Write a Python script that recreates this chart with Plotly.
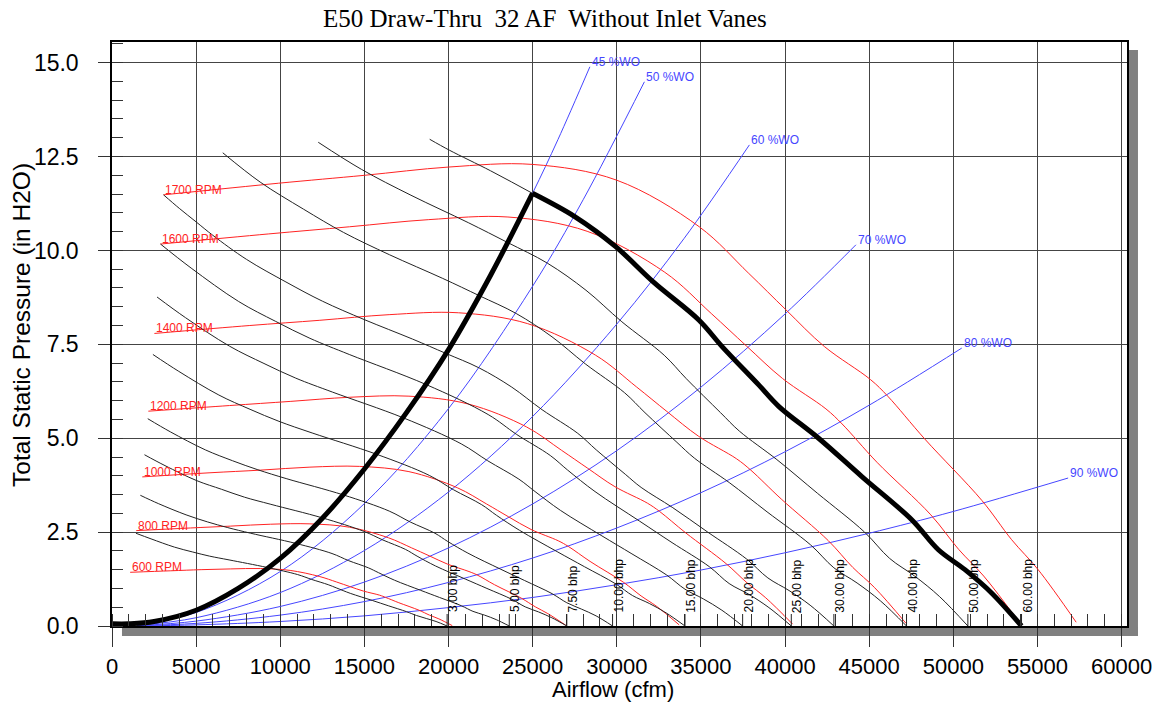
import plotly.graph_objects as go

# ---------------- data (cfm, in H2O) ----------------
# Fan speed curves
RPM_LABELS = ["600 RPM", "800 RPM", "1000 RPM", "1200 RPM", "1400 RPM", "1600 RPM", "1700 RPM"]
RPM600_X = [1080, 3494, 5294, 7059, 8824, 10588, 12317, 13355, 14134, 14942, 15909, 16269, 17045, 18245, 18866, 19424, 20221]
RPM600_Y = [1.43, 1.47, 1.50, 1.52, 1.53, 1.48, 1.32, 1.17, 1.05, 0.93, 0.82, 0.76, 0.62, 0.42, 0.29, 0.19, 0.01]
RPM800_X = [1440, 4659, 7059, 9412, 11765, 14118, 16424, 17807, 18848, 19925, 21215, 21695, 22730, 24330, 25158, 25902, 26965]
RPM800_Y = [2.54, 2.61, 2.66, 2.71, 2.72, 2.63, 2.35, 2.08, 1.87, 1.65, 1.45, 1.36, 1.10, 0.74, 0.51, 0.33, 0.02]
RPM1000_X = [1800, 5823, 8823, 11764, 14705, 17646, 20528, 22258, 23557, 24904, 26516, 27116, 28410, 30410, 31445, 32375, 33704]
RPM1000_Y = [3.97, 4.08, 4.15, 4.23, 4.25, 4.11, 3.68, 3.25, 2.91, 2.57, 2.27, 2.12, 1.72, 1.16, 0.80, 0.52, 0.03]
RPM1200_X = [2160, 6988, 10588, 14118, 17647, 21177, 24636, 26711, 28271, 29888, 31822, 32542, 34095, 36495, 37737, 38853, 40448]
RPM1200_Y = [5.72, 5.87, 5.98, 6.09, 6.12, 5.91, 5.30, 4.68, 4.20, 3.71, 3.27, 3.05, 2.48, 1.66, 1.15, 0.75, 0.05]
RPM1400_X = [2520, 8153, 12353, 16470, 20588, 24705, 28740, 31161, 32981, 34867, 37123, 37963, 39775, 42575, 44024, 45325, 47187]
RPM1400_Y = [7.79, 8.00, 8.14, 8.29, 8.34, 8.05, 7.21, 6.37, 5.71, 5.05, 4.45, 4.15, 3.38, 2.27, 1.56, 1.02, 0.07]
RPM1600_X = [2880, 9318, 14118, 18824, 23530, 28236, 32848, 35615, 37695, 39850, 42429, 43389, 45460, 48660, 50316, 51804, 53931]
RPM1600_Y = [10.17, 10.44, 10.63, 10.82, 10.89, 10.51, 9.42, 8.32, 7.46, 6.59, 5.78, 5.38, 4.36, 2.96, 2.04, 1.33, 0.09]
RPM1700_X = [3060, 9900, 15000, 20000, 25000, 30000, 34900, 37840, 40050, 42340, 45080, 46100, 48300, 51700, 53460, 55040, 57300]
RPM1700_Y = [11.48, 11.79, 12.00, 12.22, 12.29, 11.87, 10.63, 9.39, 8.42, 7.44, 6.56, 6.12, 4.98, 3.34, 2.30, 1.50, 0.10]

# Brake horsepower curves
BHP_LABELS = ["3.00 bhp", "5.00 bhp", "7.50 bhp", "10.00 bhp", "15.00 bhp", "20.00 bhp",
              "25.00 bhp", "30.00 bhp", "40.00 bhp", "50.00 bhp", "60.00 bhp"]
BHP3_X = [1422, 2321, 3714, 4799, 5803, 6956, 9207, 11029, 11864, 12849, 13359, 14160, 15471, 16419, 17511, 18094, 18676, 19259, 19915]
BHP3_Y = [2.47, 2.32, 2.10, 1.97, 1.86, 1.76, 1.56, 1.37, 1.24, 1.10, 1.01, 0.87, 0.68, 0.54, 0.38, 0.28, 0.20, 0.12, 0.0]
BHP5_X = [1686, 2752, 4402, 5689, 6879, 8246, 10915, 13074, 14064, 15232, 15837, 16786, 18340, 19464, 20758, 21450, 22140, 22831, 23608]
BHP5_Y = [3.48, 3.26, 2.96, 2.77, 2.62, 2.47, 2.20, 1.93, 1.74, 1.55, 1.42, 1.22, 0.95, 0.76, 0.54, 0.39, 0.29, 0.17, 0.0]
BHP7_5_X = [1930, 3150, 5040, 6513, 7875, 9441, 12495, 14968, 16101, 17438, 18131, 19218, 20997, 22283, 23765, 24556, 25347, 26137, 27028]
BHP7_5_Y = [4.56, 4.27, 3.87, 3.64, 3.43, 3.24, 2.88, 2.52, 2.29, 2.04, 1.86, 1.60, 1.25, 1.00, 0.71, 0.51, 0.375, 0.22, 0.0]
BHP10_X = [2125, 3467, 5547, 7168, 8668, 10391, 13753, 16474, 17721, 19193, 19955, 21151, 23110, 24525, 26156, 27027, 27898, 28768, 29748]
BHP10_Y = [5.52, 5.17, 4.69, 4.40, 4.16, 3.92, 3.49, 3.06, 2.77, 2.47, 2.25, 1.94, 1.51, 1.21, 0.86, 0.62, 0.45, 0.27, 0.0]
BHP15_X = [2432, 3969, 6350, 8205, 9921, 11894, 15742, 18857, 20285, 21969, 22842, 24211, 26453, 28073, 29940, 30937, 31933, 32929, 34051]
BHP15_Y = [7.23, 6.78, 6.15, 5.77, 5.45, 5.14, 4.57, 4.01, 3.63, 3.23, 2.95, 2.55, 1.98, 1.58, 1.12, 0.81, 0.60, 0.35, 0.0]
BHP20_X = [2677, 4368, 6989, 9031, 10920, 13091, 17327, 20755, 22327, 24180, 25141, 26648, 29115, 30899, 32954, 34051, 35148, 36244, 37478]
BHP20_Y = [8.76, 8.21, 7.45, 6.99, 6.60, 6.23, 5.54, 4.85, 4.40, 3.91, 3.58, 3.08, 2.40, 1.92, 1.36, 0.98, 0.72, 0.42, 0.0]
BHP25_X = [2883, 4705, 7528, 9728, 11763, 14101, 18664, 22356, 24049, 26046, 27081, 28704, 31362, 33283, 35496, 36678, 37859, 39040, 40370]
BHP25_Y = [10.17, 9.53, 8.64, 8.11, 7.66, 7.23, 6.43, 5.63, 5.10, 4.54, 4.15, 3.58, 2.79, 2.22, 1.58, 1.13, 0.84, 0.49, 0.0]
BHP30_X = [3064, 4000, 5000, 6000, 8000, 10338, 12500, 14985, 17858, 19834, 21827, 23758, 25557, 27679, 28779, 30504, 31446, 33328, 35370, 37722, 38978, 40233, 41488, 42901]
BHP30_Y = [11.48, 11.12, 10.76, 10.40, 9.76, 9.16, 8.65, 8.16, 7.64, 7.26, 6.87, 6.36, 5.76, 5.13, 4.69, 4.04, 3.69, 3.15, 2.51, 1.78, 1.28, 0.945, 0.554, 0.0]
BHP40_X = [6583, 8805, 11378, 13758, 16493, 19655, 21829, 24023, 26148, 28128, 30464, 31674, 33573, 34610, 36681, 38928, 41517, 42899, 44280, 45662, 47217]
BHP40_Y = [12.60, 11.82, 11.10, 10.48, 9.885, 9.255, 8.795, 8.32, 7.70, 6.98, 6.21, 5.68, 4.89, 4.47, 3.82, 3.04, 2.16, 1.55, 1.145, 0.671, 0.0]
BHP50_X = [12257, 14820, 17766, 21173, 23515, 25878, 28168, 30300, 32816, 34120, 36166, 37282, 39514, 41935, 44723, 46212, 47700, 49188, 50863]
BHP50_Y = [12.88, 12.16, 11.47, 10.74, 10.21, 9.66, 8.94, 8.10, 7.21, 6.59, 5.68, 5.19, 4.43, 3.53, 2.50, 1.80, 1.33, 0.78, 0.0]
BHP60_X = [18880, 20047, 22500, 24990, 27500, 29933, 32200, 34874, 36259, 38433, 39620, 41991, 44563, 47527, 49109, 50690, 52272, 54052]
BHP60_Y = [12.96, 12.67, 12.12, 11.52, 10.90, 10.10, 9.15, 8.15, 7.44, 6.42, 5.85, 5.00, 3.98, 2.83, 2.03, 1.50, 0.88, 0.0]
PEAK_X = 24990  # 45 %WO system curve meets the 60 bhp limit

# System (% wide open) curves
WO_LABELS = ["45 %WO", "50 %WO", "60 %WO", "70 %WO", "80 %WO", "90 %WO"]
WO45_X = [0, 1000, 2500, 5000, 7500, 10000, 12500, 15000, 17500, 20000, 22500, 24990, 26500, 28400]
WO45_Y = [0.06, 0.06, 0.12, 0.42, 1.00, 1.80, 2.87, 4.18, 5.68, 7.36, 9.34, 11.52, 12.95, 14.89]
WO50_X = [1500, 5000, 10000, 15000, 20000, 25000, 28000, 31640]
WO50_Y = [0.03, 0.36, 1.45, 3.26, 5.79, 9.05, 11.35, 14.49]
WO60_X = [1500, 5000, 10000, 15000, 20000, 25000, 30000, 34000, 37880]
WO60_Y = [0.02, 0.22, 0.89, 2.01, 3.57, 5.58, 8.04, 10.32, 12.81]
WO70_X = [1500, 5000, 10000, 15000, 20000, 25000, 30000, 35000, 40000, 44210]
WO70_Y = [0.01, 0.13, 0.52, 1.17, 2.08, 3.25, 4.67, 6.36, 8.31, 10.15]
WO80_X = [1500, 5000, 10000, 15000, 20000, 25000, 30000, 35000, 40000, 45000, 50500]
WO80_Y = [0.01, 0.07, 0.29, 0.65, 1.16, 1.81, 2.61, 3.55, 4.64, 5.88, 7.40]
WO90_X = [1500, 5000, 10000, 15000, 20000, 25000, 30000, 35000, 40000, 45000, 50000, 56820]
WO90_Y = [0.0, 0.03, 0.12, 0.27, 0.49, 0.76, 1.10, 1.49, 1.95, 2.47, 3.05, 3.94]

X_TICKS = list(range(0, 60001, 5000))
Y_TICKS = [0.0, 2.5, 5.0, 7.5, 10.0, 12.5, 15.0]

TITLE = "E50 Draw-Thru  32 AF  Without Inlet Vanes"
X_TITLE = "Airflow (cfm)"
Y_TITLE = "Total Static Pressure (in H2O)"

# ---------------- styling ----------------
BLUE = "rgb(70,70,255)"
RED = "rgb(255,35,35)"
BLK = "rgb(35,35,35)"
SANS = "Liberation Sans, Arial, sans-serif"
SERIF = "Liberation Serif, Times New Roman, serif"
W, H = 1164, 703
ML, MR, MT, MB = 112, 35, 42, 77
PW, PH = W - ML - MR, H - MT - MB

fig = go.Figure()

def add_line(xs, ys, color, width, smooth=1.0):
    fig.add_trace(go.Scatter(x=xs, y=ys, mode="lines", hoverinfo="skip", showlegend=False,
                             line=dict(color=color, width=width, shape="spline", smoothing=smooth)))

# system curves
wo_sets = [(WO45_X, WO45_Y), (WO50_X, WO50_Y), (WO60_X, WO60_Y),
           (WO70_X, WO70_Y), (WO80_X, WO80_Y), (WO90_X, WO90_Y)]
for (xs, ys), lab in zip(wo_sets, WO_LABELS):
    add_line(xs, ys, BLUE, 1)
    fig.add_annotation(x=xs[-1], y=ys[-1], text=lab, showarrow=False, xanchor="left",
                       yanchor="bottom", yshift=-4, font=dict(family=SANS, size=12, color=BLUE))

# rpm curves
rpm_sets = [(RPM600_X, RPM600_Y), (RPM800_X, RPM800_Y), (RPM1000_X, RPM1000_Y),
            (RPM1200_X, RPM1200_Y), (RPM1400_X, RPM1400_Y), (RPM1600_X, RPM1600_Y),
            (RPM1700_X, RPM1700_Y)]
for (xs, ys), lab in zip(rpm_sets, RPM_LABELS):
    add_line(xs, ys, RED, 1)
    fig.add_annotation(x=xs[0], y=ys[0], text=lab, showarrow=False, xanchor="left",
                       yanchor="bottom", yshift=-4, font=dict(family=SANS, size=12, color=RED))

# bhp curves
bhp_sets = [(BHP3_X, BHP3_Y), (BHP5_X, BHP5_Y), (BHP7_5_X, BHP7_5_Y), (BHP10_X, BHP10_Y),
            (BHP15_X, BHP15_Y), (BHP20_X, BHP20_Y), (BHP25_X, BHP25_Y), (BHP30_X, BHP30_Y),
            (BHP40_X, BHP40_Y), (BHP50_X, BHP50_Y), (BHP60_X, BHP60_Y)]
shapes = []
for (xs, ys), lab in zip(bhp_sets, BHP_LABELS):
    add_line(xs, ys, BLK, 1)
    fig.add_annotation(x=xs[-1], y=0, text=lab, showarrow=False, textangle=-90,
                       xanchor="center", yanchor="middle", xshift=6,
                       yshift=14 + len(lab) * 5.8 / 2,
                       font=dict(family=SANS, size=12, color="black"))
    shapes.append(dict(type="line", xref="x", yref="paper", x0=xs[-1], x1=xs[-1],
                       y0=0, y1=12 / PH, line=dict(color=BLK, width=1)))

# operating envelope (thick)
k = WO45_X.index(PEAK_X)
add_line(WO45_X[:k + 1], WO45_Y[:k + 1], "black", 5)
j = BHP60_X.index(PEAK_X)
add_line(BHP60_X[j:], BHP60_Y[j:], "black", 5)

# gray drop shadow
shapes.append(dict(type="rect", xref="paper", yref="paper", layer="below",
                   x0=1.0, x1=1 + 11 / PW, y0=-10 / PH, y1=1 - 8 / PH,
                   fillcolor="#808080", line=dict(width=0)))
shapes.append(dict(type="rect", xref="paper", yref="paper", layer="below",
                   x0=10 / PW, x1=1 + 11 / PW, y0=-10 / PH, y1=-1 / PH,
                   fillcolor="#808080", line=dict(width=0)))

# titles
fig.add_annotation(xref="paper", yref="paper", x=(546 - ML) / PW, y=1, yshift=MT - 18,
                   text=TITLE, showarrow=False, xanchor="center", yanchor="middle",
                   font=dict(family=SERIF, size=25, color="black"))
fig.add_annotation(xref="paper", yref="paper", x=(614 - ML) / PW, y=0, yshift=-(689 - (H - MB)),
                   text=X_TITLE, showarrow=False, xanchor="center", yanchor="middle",
                   font=dict(family=SANS, size=22, color="black"))
fig.add_annotation(xref="paper", yref="paper", x=0, xshift=-(ML - 21), y=(H - MB - 325) / PH,
                   text=Y_TITLE, showarrow=False, textangle=-90, xanchor="center", yanchor="middle",
                   font=dict(family=SANS, size=24.5, color="black"))

fig.update_layout(
    width=W, height=H, margin=dict(l=ML, r=MR, t=MT, b=MB),
    paper_bgcolor="white", plot_bgcolor="white", showlegend=False,
    shapes=shapes,
    xaxis=dict(range=[0, 60320], tickvals=X_TICKS, ticktext=[str(v) for v in X_TICKS],
               showgrid=True, gridcolor="#444444", gridwidth=1, zeroline=False,
               showline=True, linecolor="black", linewidth=1.5, mirror=True,
               ticks="outside", ticklen=19, tickwidth=1, tickcolor="#333",
               tickfont=dict(family=SANS, size=22, color="black"), ticklabelstandoff=1,
               minor=dict(ticks="inside", ticklen=12, dtick=1000, tick0=0,
                          tickcolor="#333", tickwidth=1, showgrid=False)),
    yaxis=dict(range=[0, 15.55], tickvals=Y_TICKS, ticktext=["%.1f" % v for v in Y_TICKS],
               showgrid=True, gridcolor="#444444", gridwidth=1, zeroline=False,
               showline=True, linecolor="black", linewidth=1.5, mirror=True,
               ticks="outside", ticklen=12, tickwidth=1, tickcolor="#333",
               tickfont=dict(family=SANS, size=23, color="black"), ticklabelstandoff=15,
               minor=dict(ticks="inside", ticklen=11, dtick=0.5, tick0=0,
                          tickcolor="#333", tickwidth=1, showgrid=False)),
)

fig.write_html("out.html")
